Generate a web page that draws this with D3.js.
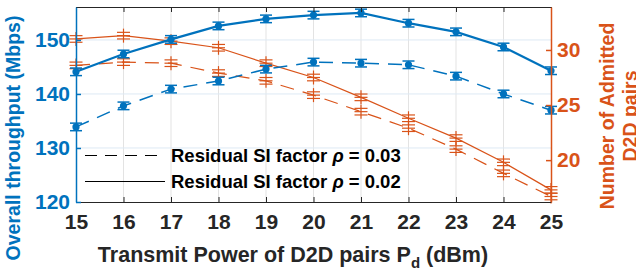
<!DOCTYPE html>
<html>
<head>
<meta charset="utf-8">
<script src="https://cdn.jsdelivr.net/npm/d3@7"></script>
<style>
  body { margin: 0; background: #fff; }
  svg { font-family: "Liberation Sans", Arial, sans-serif; font-weight: bold; }
</style>
</head>
<body>
<svg id="chart"></svg>
<script>
var powers = [15, 16, 17, 18, 19, 20, 21, 22, 23, 24, 25]
var throughput002 = [144.1, 147.4, 150.1, 152.6, 153.9, 154.6, 155.0, 153.1, 151.5, 148.7, 144.3]
var throughput003 = [133.9, 137.8, 140.9, 142.4, 144.6, 145.9, 145.7, 145.4, 143.3, 140.0, 137.0]
var pairs002 = [31.0, 31.3, 30.8, 30.2, 28.8, 27.5, 25.7, 23.8, 22.0, 19.8, 17.3]
var pairs003 = [28.6, 28.9, 28.8, 27.9, 27.2, 25.9, 24.4, 22.9, 21.0, 18.8, 16.7]
var throughputErr = 0.7
var pairsErr = 0.3
var leftTicks = [120, 130, 140, 150]
var rightTicks = [20, 25, 30]
var legendLabels = ["Residual SI factor \u03c1 = 0.03", "Residual SI factor \u03c1 = 0.02"]

var blue = "#0072BD", orange = "#D95319", dark = "#262626"

var dimensions = {
    width: 636,
    height: 278,
    margin: { top: 7, bottom: 76, right: 85, left: 76 }
}

var svg = d3.select("#chart")
            .attr("width", dimensions.width)
            .attr("height", dimensions.height)

var x0 = dimensions.margin.left
var x1 = dimensions.width - dimensions.margin.right
var y0 = dimensions.height - dimensions.margin.bottom
var y1 = dimensions.margin.top

var xScale = d3.scaleLinear().domain([15, 25]).range([x0, x1])
var yLeft = d3.scaleLinear().domain([120, 156.1]).range([y0, y1])
var yRight = d3.scaleLinear().domain([16.2, 33.9]).range([y0, y1])

// grid
svg.append("g").selectAll("line")
   .data(powers.slice(1, -1))
   .enter().append("line")
   .attr("x1", d => xScale(d)).attr("x2", d => xScale(d))
   .attr("y1", y0).attr("y2", y1)
   .attr("stroke", "#e3e3e3").attr("stroke-width", 1)

svg.append("g").selectAll("line")
   .data(leftTicks.slice(1))
   .enter().append("line")
   .attr("x1", x0).attr("x2", x1)
   .attr("y1", d => yLeft(d)).attr("y2", d => yLeft(d))
   .attr("stroke", "#dde9f4").attr("stroke-width", 1)

// legend (drawn under data, transparent background)
var legend = svg.append("g")
legendLabels.forEach(function(label, i) {
    var ly = 155.5 + i * 26
    legend.append("line")
          .attr("x1", 85).attr("x2", 165).attr("y1", ly).attr("y2", ly)
          .attr("stroke", "#000").attr("stroke-width", 1.1)
          .attr("stroke-dasharray", i === 0 ? "12,8" : null)
    var t = legend.append("text")
          .attr("x", 171).attr("y", ly + 6.5)
          .attr("font-size", 18.5).attr("fill", "#000")
    var parts = label.split("\u03c1")
    t.append("tspan").text(parts[0])
    t.append("tspan").attr("font-style", "italic").text("\u03c1")
    t.append("tspan").text(parts[1])
})

// series
function drawBlue(values, dashed) {
    var g = svg.append("g")
    var line = d3.line().x((d, i) => xScale(powers[i])).y(d => yLeft(d))
    g.append("path").datum(values)
     .attr("d", line).attr("fill", "none")
     .attr("stroke", blue).attr("stroke-width", dashed ? 1.5 : 2.2)
     .attr("stroke-dasharray", dashed ? "14,9" : null)
    var pts = g.selectAll("g").data(values).enter().append("g")
    pts.append("line")
       .attr("x1", (d, i) => xScale(powers[i])).attr("x2", (d, i) => xScale(powers[i]))
       .attr("y1", d => yLeft(d - throughputErr)).attr("y2", d => yLeft(d + throughputErr))
       .attr("stroke", blue).attr("stroke-width", 1.5)
    ;[-1, 1].forEach(function(s) {
        pts.append("line")
           .attr("x1", (d, i) => xScale(powers[i]) - 6).attr("x2", (d, i) => xScale(powers[i]) + 6)
           .attr("y1", d => yLeft(d + s * throughputErr)).attr("y2", d => yLeft(d + s * throughputErr))
           .attr("stroke", blue).attr("stroke-width", 1.5)
    })
    pts.append("circle")
       .attr("cx", (d, i) => xScale(powers[i])).attr("cy", d => yLeft(d))
       .attr("r", 3.6).attr("fill", blue)
}

function drawOrange(values, dashed) {
    var g = svg.append("g")
    var line = d3.line().x((d, i) => xScale(powers[i])).y(d => yRight(d))
    g.append("path").datum(values)
     .attr("d", line).attr("fill", "none")
     .attr("stroke", orange).attr("stroke-width", 1.2)
     .attr("stroke-dasharray", dashed ? "14,9" : null)
    var pts = g.selectAll("g").data(values).enter().append("g")
    pts.append("line")
       .attr("x1", (d, i) => xScale(powers[i])).attr("x2", (d, i) => xScale(powers[i]))
       .attr("y1", d => yRight(d) - 7).attr("y2", d => yRight(d) + 7)
       .attr("stroke", orange).attr("stroke-width", 1.2)
    ;[-1, 1].forEach(function(s) {
        pts.append("line")
           .attr("x1", (d, i) => xScale(powers[i]) - 6.5).attr("x2", (d, i) => xScale(powers[i]) + 6.5)
           .attr("y1", d => yRight(d + s * pairsErr)).attr("y2", d => yRight(d + s * pairsErr))
           .attr("stroke", orange).attr("stroke-width", 1.2)
    })
    pts.append("line")
       .attr("x1", (d, i) => xScale(powers[i]) - 6.5).attr("x2", (d, i) => xScale(powers[i]) + 6.5)
       .attr("y1", d => yRight(d)).attr("y2", d => yRight(d))
       .attr("stroke", orange).attr("stroke-width", 1.2)
}

drawOrange(pairs003, true)
drawOrange(pairs002, false)
drawBlue(throughput003, true)
drawBlue(throughput002, false)

// axes
var tickFont = "Liberation Sans, Arial, sans-serif"
var xAxisGen = d3.axisBottom(xScale).tickValues(powers).tickFormat(d3.format("d")).tickSizeInner(-5).tickSizeOuter(0).tickPadding(12)
var xAxis = svg.append("g")
               .attr("transform", `translate(0,${y0})`)
               .call(xAxisGen)
xAxis.selectAll("text").attr("font-size", 21).attr("fill", dark).attr("font-family", tickFont).attr("font-weight", "bold")
xAxis.selectAll("line, path").attr("stroke", dark)

var topAxisGen = d3.axisTop(xScale).tickValues(powers).tickFormat("").tickSizeInner(-5).tickSizeOuter(0)
var topAxis = svg.append("g").attr("transform", `translate(0,${y1})`).call(topAxisGen)
topAxis.selectAll("line, path").attr("stroke", dark)

var leftAxisGen = d3.axisLeft(yLeft).tickValues(leftTicks).tickSizeInner(-5).tickSizeOuter(0).tickPadding(6)
var leftAxis = svg.append("g").attr("transform", `translate(${x0},0)`).call(leftAxisGen)
leftAxis.selectAll("text").attr("font-size", 21).attr("fill", blue).attr("font-family", tickFont).attr("font-weight", "bold")
leftAxis.selectAll("line, path").attr("stroke", blue).attr("stroke-width", 1.5)

var rightAxisGen = d3.axisRight(yRight).tickValues(rightTicks).tickSizeInner(-5).tickSizeOuter(0).tickPadding(6)
var rightAxis = svg.append("g").attr("transform", `translate(${x1},0)`).call(rightAxisGen)
rightAxis.selectAll("text").attr("font-size", 21).attr("fill", orange).attr("font-family", tickFont).attr("font-weight", "bold")
rightAxis.selectAll("line, path").attr("stroke", orange).attr("stroke-width", 1.5)

// axis titles
svg.append("text")
   .attr("transform", `translate(20,138) rotate(-90)`)
   .attr("text-anchor", "middle").attr("font-size", 19.5).attr("fill", blue)
   .text("Overall throughput (Mbps)")

var rt = svg.append("text")
   .attr("transform", `translate(0,116) rotate(-90)`)
   .attr("text-anchor", "middle").attr("font-size", 19.5).attr("fill", orange)
rt.append("tspan").attr("x", 0).attr("y", 614).text("Number of Admitted")
rt.append("tspan").attr("x", 0).attr("y", 637).text("D2D pairs")

var xl = svg.append("text")
   .attr("x", 293).attr("y", 262)
   .attr("text-anchor", "middle").attr("font-size", 21.5).attr("fill", dark)
xl.append("tspan").text("Transmit Power of D2D pairs P")
xl.append("tspan").attr("font-size", 15).attr("dy", 6).text("d")
xl.append("tspan").attr("dy", -6).text(" (dBm)")
</script>
</body>
</html>
